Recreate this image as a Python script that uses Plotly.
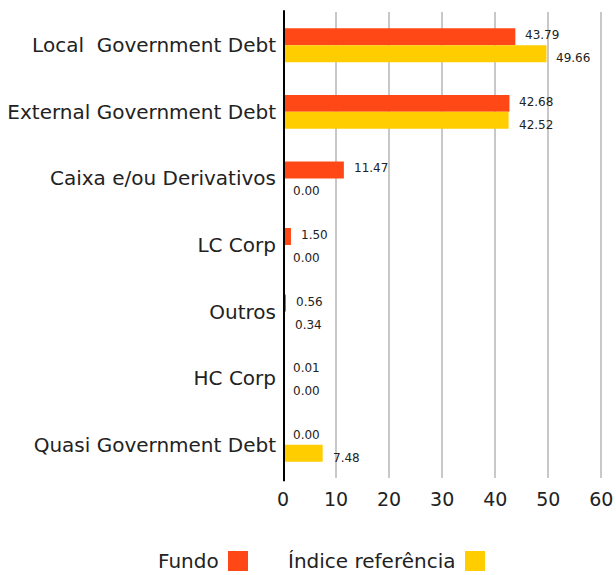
import plotly.graph_objects as go

categories = ["Local\u00a0 Government Debt", "External Government Debt", "Caixa e/ou Derivativos",
              "LC Corp", "Outros", "HC Corp", "Quasi Government Debt"]
fundo = [43.79, 42.68, 11.47, 1.50, 0.56, 0.01, 0.00]
indice = [49.66, 42.52, 0.00, 0.00, 0.34, 0.00, 7.48]
x_ticks = [0, 10, 20, 30, 40, 50, 60]
series_names = ["Fundo", "Índice referência"]

ORANGE = "#FF4815"
YELLOW = "#FFCD00"
FONT = "DejaVu Sans"

FW, FH = 616, 575

fig = go.Figure()
fig.add_trace(go.Bar(y=categories, x=fundo, orientation="h", name=series_names[0],
                     marker=dict(color=ORANGE, line=dict(width=0)), showlegend=False))
fig.add_trace(go.Bar(y=categories, x=indice, orientation="h", name=series_names[1],
                     marker=dict(color=YELLOW, line=dict(width=0)), showlegend=False))

annotations = []
for c, v in zip(categories, fundo):
    annotations.append(dict(x=v, y=c, xref="x", yref="y", text=f"{v:.2f}", showarrow=False,
                            xanchor="left", yanchor="middle", xshift=8, yshift=10,
                            font=dict(family=FONT, size=12, color="#222")))
for c, v in zip(categories, indice):
    annotations.append(dict(x=v, y=c, xref="x", yref="y", text=f"{v:.2f}", showarrow=False,
                            xanchor="left", yanchor="middle", xshift=8, yshift=-13,
                            font=dict(family=FONT, size=12, color="#222")))

# custom legend (text followed by swatch), positions in page pixels
L, R, T, B = 283, 604, 12, 478
W, H = R - L, B - T
def px(p):
    return (p - L) / W
def py(p):
    return (B - p) / H

annotations.append(dict(x=px(221), y=py(561), xref="paper", yref="paper", text=series_names[0],
                        showarrow=False, xanchor="right", yanchor="middle",
                        font=dict(family=FONT, size=20, color="#222")))
annotations.append(dict(x=px(458), y=py(561), xref="paper", yref="paper", text=series_names[1],
                        showarrow=False, xanchor="right", yanchor="middle",
                        font=dict(family=FONT, size=20, color="#222")))
shapes = [
    dict(type="rect", xref="paper", yref="paper", x0=px(228), x1=px(248), y0=py(571), y1=py(551),
         fillcolor=ORANGE, line=dict(width=0)),
    dict(type="rect", xref="paper", yref="paper", x0=px(465), x1=px(485), y0=py(571), y1=py(551),
         fillcolor=YELLOW, line=dict(width=0)),
    dict(type="line", xref="x", yref="paper", x0=0, x1=0, y0=-0.007, y1=1.004,
         line=dict(color="black", width=4), layer="above"),
]

fig.update_layout(
    width=FW, height=FH,
    margin=dict(l=L, r=FW - R, t=T, b=FH - B, pad=0, autoexpand=False),
    paper_bgcolor="white", plot_bgcolor="white",
    barmode="group", bargap=0.49, bargroupgap=0,
    font=dict(family=FONT, color="#222"),
    annotations=annotations, shapes=shapes,
    xaxis=dict(range=[0, 60.5], tickvals=x_ticks, ticktext=[str(t) for t in x_ticks],
               showgrid=True, gridcolor="#c8c8c8", gridwidth=2, zeroline=False,
               showline=False, ticks="", tickfont=dict(size=19, color="#222"),
               ticklabelstandoff=8, automargin=False),
    yaxis=dict(autorange="reversed", showgrid=False, zeroline=False, showline=False,
               ticks="", tickfont=dict(size=20, color="#222"), ticklabelstandoff=6,
               automargin=False),
)

fig.write_html("out.html", config={"displayModeBar": False},
               post_script="document.body.style.margin='0';document.body.style.overflow='hidden';")
